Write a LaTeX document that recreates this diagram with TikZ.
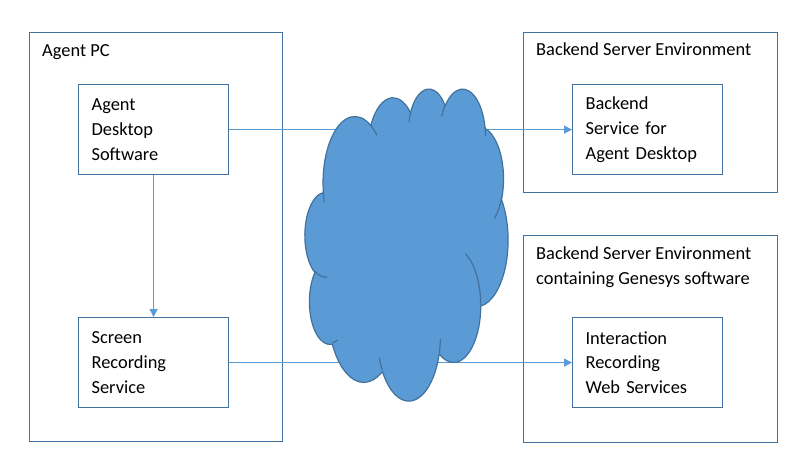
\documentclass[tikz,border=0pt]{standalone}
\usepackage{fontspec}
\setmainfont{Carlito}
\usetikzlibrary{arrows.meta}
\definecolor{boxblue}{HTML}{41719C}
\definecolor{lineblue}{HTML}{5B9BD5}
% one puff of the cloud: radii, start and sweep as visual angles
\newcommand\cloudarc[4]{arc[x radius=#1, y radius=#2,
  start angle={atan2(#1*sin(#3),#2*cos(#3))},
  delta angle={atan2(#1*sin((#3)+(#4)),#2*cos((#3)+(#4)))-atan2(#1*sin(#3),#2*cos(#3))-360*round((atan2(#1*sin((#3)+(#4)),#2*cos((#3)+(#4)))-atan2(#1*sin(#3),#2*cos(#3))-(#4))/360)}]}
\begin{document}
\begin{tikzpicture}[x=1pt, y=-1pt,
  every node/.style={font=\fontsize{18.4}{24.6}\selectfont},
  envbox/.style={draw=boxblue, line width=1.2pt, anchor=north west, inner sep=0pt},
  svcbox/.style={draw=boxblue, line width=1.2pt, anchor=north west, minimum width=150pt,
    minimum height=90pt, text width=124pt, inner xsep=13pt, align=left},
  envlbl/.style={anchor=base west, inner sep=0pt, align=left},
  link/.style={draw=lineblue, line width=1.4pt, -{Triangle[length=8pt, width=8pt]}}]
\useasboundingbox (0,0) rectangle (786,454);

% agent side
\node[envbox, minimum width=253pt, minimum height=409pt] (pc) at (29,32) {};
\node[envlbl] (pclbl) at (42,56.5) {Agent PC};
\node[svcbox] (ads) at (78,84) {Agent\\Desktop\\Software};
\node[svcbox] (srs) at (78,317) {Screen\\Recording\\Service};

% backend side
\node[envbox, minimum width=254pt, minimum height=160pt] (be) at (523,32) {};
\node[envlbl] (belbl) at (536,56) {Backend Server Environment};
\node[svcbox] (bsad) at (572,84) {Backend\\Service for\\Agent Desktop};

\node[envbox, minimum width=254pt, minimum height=207pt] (ge) at (523,235) {};
\node[envlbl] (gelbl) at (536,284) {Backend Server Environment\\containing Genesys software};
\node[svcbox] (irws) at (572,317) {Interaction\\Recording\\Web Services};

\draw[link] (ads.east) -- (bsad.west);
\draw[link] (srs.east) -- (irws.west);
\draw[link] (ads.south) -- (srs.north);

% network cloud on top of the links
\begin{scope}[shift={(305,88)}, x=0.46991pt, y=-0.72222pt]
\filldraw[fill=lineblue, draw=boxblue, line width=1.2pt, line join=round] (39.00,143.70)
  \cloudarc{67.53}{91.90}{-190.4875}{123.7805}
  \cloudarc{53.33}{72.67}{-144.1024}{89.9452}
  \cloudarc{43.65}{59.45}{-145.8079}{99.7230}
  \cloudarc{48.57}{65.95}{-130.9861}{117.2417}
  \cloudarc{53.33}{72.73}{-78.7089}{109.0269}
  \cloudarc{67.75}{92.20}{-46.2673}{130.2690}
  \cloudarc{57.85}{78.67}{0.6250}{114.0333}
  \cloudarc{67.52}{92.15}{22.4516}{115.1726}
  \cloudarc{77.20}{105.43}{66.2426}{75.7110}
  \cloudarc{43.60}{59.18}{-274.9421}{146.7356}
  \cloudarc{43.45}{59.45}{-246.8285}{152.5189} -- cycle;
\draw[boxblue, line width=1.2pt]
  (46.93,261.77) \cloudarc{43.45}{59.45}{86.7420}{26.4295}
  (69.28,348.99) \cloudarc{43.60}{59.18}{73.6105}{11.4475}
  (164.78,390.90) \cloudarc{67.52}{92.15}{137.6242}{14.0811}
  (288.27,347.51) \cloudarc{67.52}{92.15}{6.4533}{15.9984}
  (341.29,229.54) \cloudarc{57.85}{78.67}{-70.2924}{70.9174}
  (417.98,153.54) \cloudarc{53.33}{72.73}{30.3180}{27.7515}
  (383.24,54.26) \cloudarc{48.57}{65.95}{-13.7443}{14.8548}
  (290.78,39.52) \cloudarc{48.57}{65.95}{-149.1815}{18.1872}
  (221.41,47.20) \cloudarc{43.65}{59.45}{-163.4943}{17.6953}
  (140.00,51.92) \cloudarc{67.53}{91.90}{-66.7070}{12.3194}
  (41.27,157.89) \cloudarc{67.53}{91.90}{157.6544}{11.8582};
\end{scope}
\end{tikzpicture}
\end{document}
